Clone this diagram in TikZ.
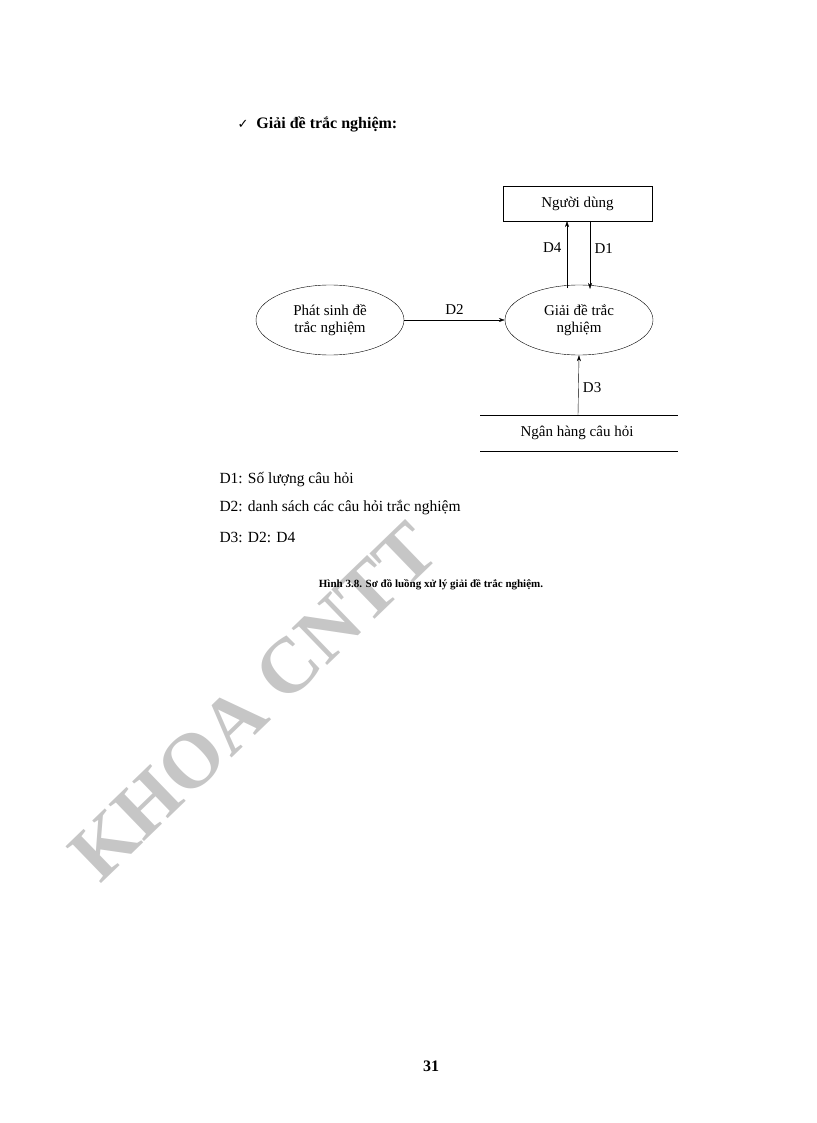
\documentclass[tikz,border=0pt]{standalone}
\usepackage{fontspec}
\setmainfont{Liberation Serif}
\newfontfamily\djv{DejaVu Sans}
\usetikzlibrary{arrows.meta,shapes.geometric}
\begin{document}
\begin{tikzpicture}[x=1pt,y=-1pt,
  proc/.style={draw,ellipse,minimum width=148pt,minimum height=70pt,align=center,font=\fontsize{15}{17}\selectfont,inner sep=0pt},
  arr/.style={-{Stealth[length=6pt,width=4pt]},thin},
  lbl/.style={font=\fontsize{15}{17}\selectfont},
  txt/.style={anchor=west,font=\fontsize{15.5}{18}\selectfont}]
\useasboundingbox (0,0) rectangle (816,1123);
\node[text=gray!45,font=\fontsize{78}{78}\selectfont\bfseries,rotate=44,anchor=base west,inner sep=0pt] (wm) at (100,885) {KHOA CNTT};
\node[anchor=west,font=\fontsize{16}{18}\selectfont\bfseries] (title) at (234,124) {{\djv\fontsize{13}{16}\selectfont ✓}\hspace{8pt}Giải đề trắc nghiệm:};
\node[draw,minimum width=149pt,minimum height=35pt,lbl] (user) at (577.5,203.5) {Người dùng};
\node[proc] (gen) at (330,320) {Phát sinh đề\\trắc nghiệm};
\node[proc] (solve) at (579,320) {Giải đề trắc\\nghiệm};
\coordinate (dsl) at (480,415); \coordinate (dsr) at (678,415);
\coordinate (dsl2) at (480,451); \coordinate (dsr2) at (678,451);
\draw (dsl) -- (dsr); \draw (dsl2) -- (dsr2);
\node[lbl] (ds) at (577,433) {Ngân hàng câu hỏi};
\draw[arr] (gen.east) -- node[lbl,above=2pt] {D2} (solve.west);
\draw[arr] (567,288) -- (567,221) node[pos=0.6,left=2pt,lbl] {D4};
\draw[arr] (590,221) -- (590,289) node[pos=0.4,right=1pt,lbl] {D1};
\draw[arr] (578,415) -- (solve.south) node[pos=0.45,right=1pt,lbl] {D3};
\node[txt] (t1) at (216,480) {D1: Số lượng câu hỏi};
\node[txt] (t2) at (216,508) {D2: danh sách các câu hỏi trắc nghiệm};
\node[txt] (t3) at (216,537) {D3: D2: D4};
\node[font=\fontsize{11}{13}\selectfont\bfseries] (cap) at (431,585) {Hình 3.8. Sơ đồ luồng xử lý giải đề trắc nghiệm.};
\node[font=\fontsize{16}{18}\selectfont\bfseries] (pg) at (431,1066) {31};
\end{tikzpicture}
\end{document}
